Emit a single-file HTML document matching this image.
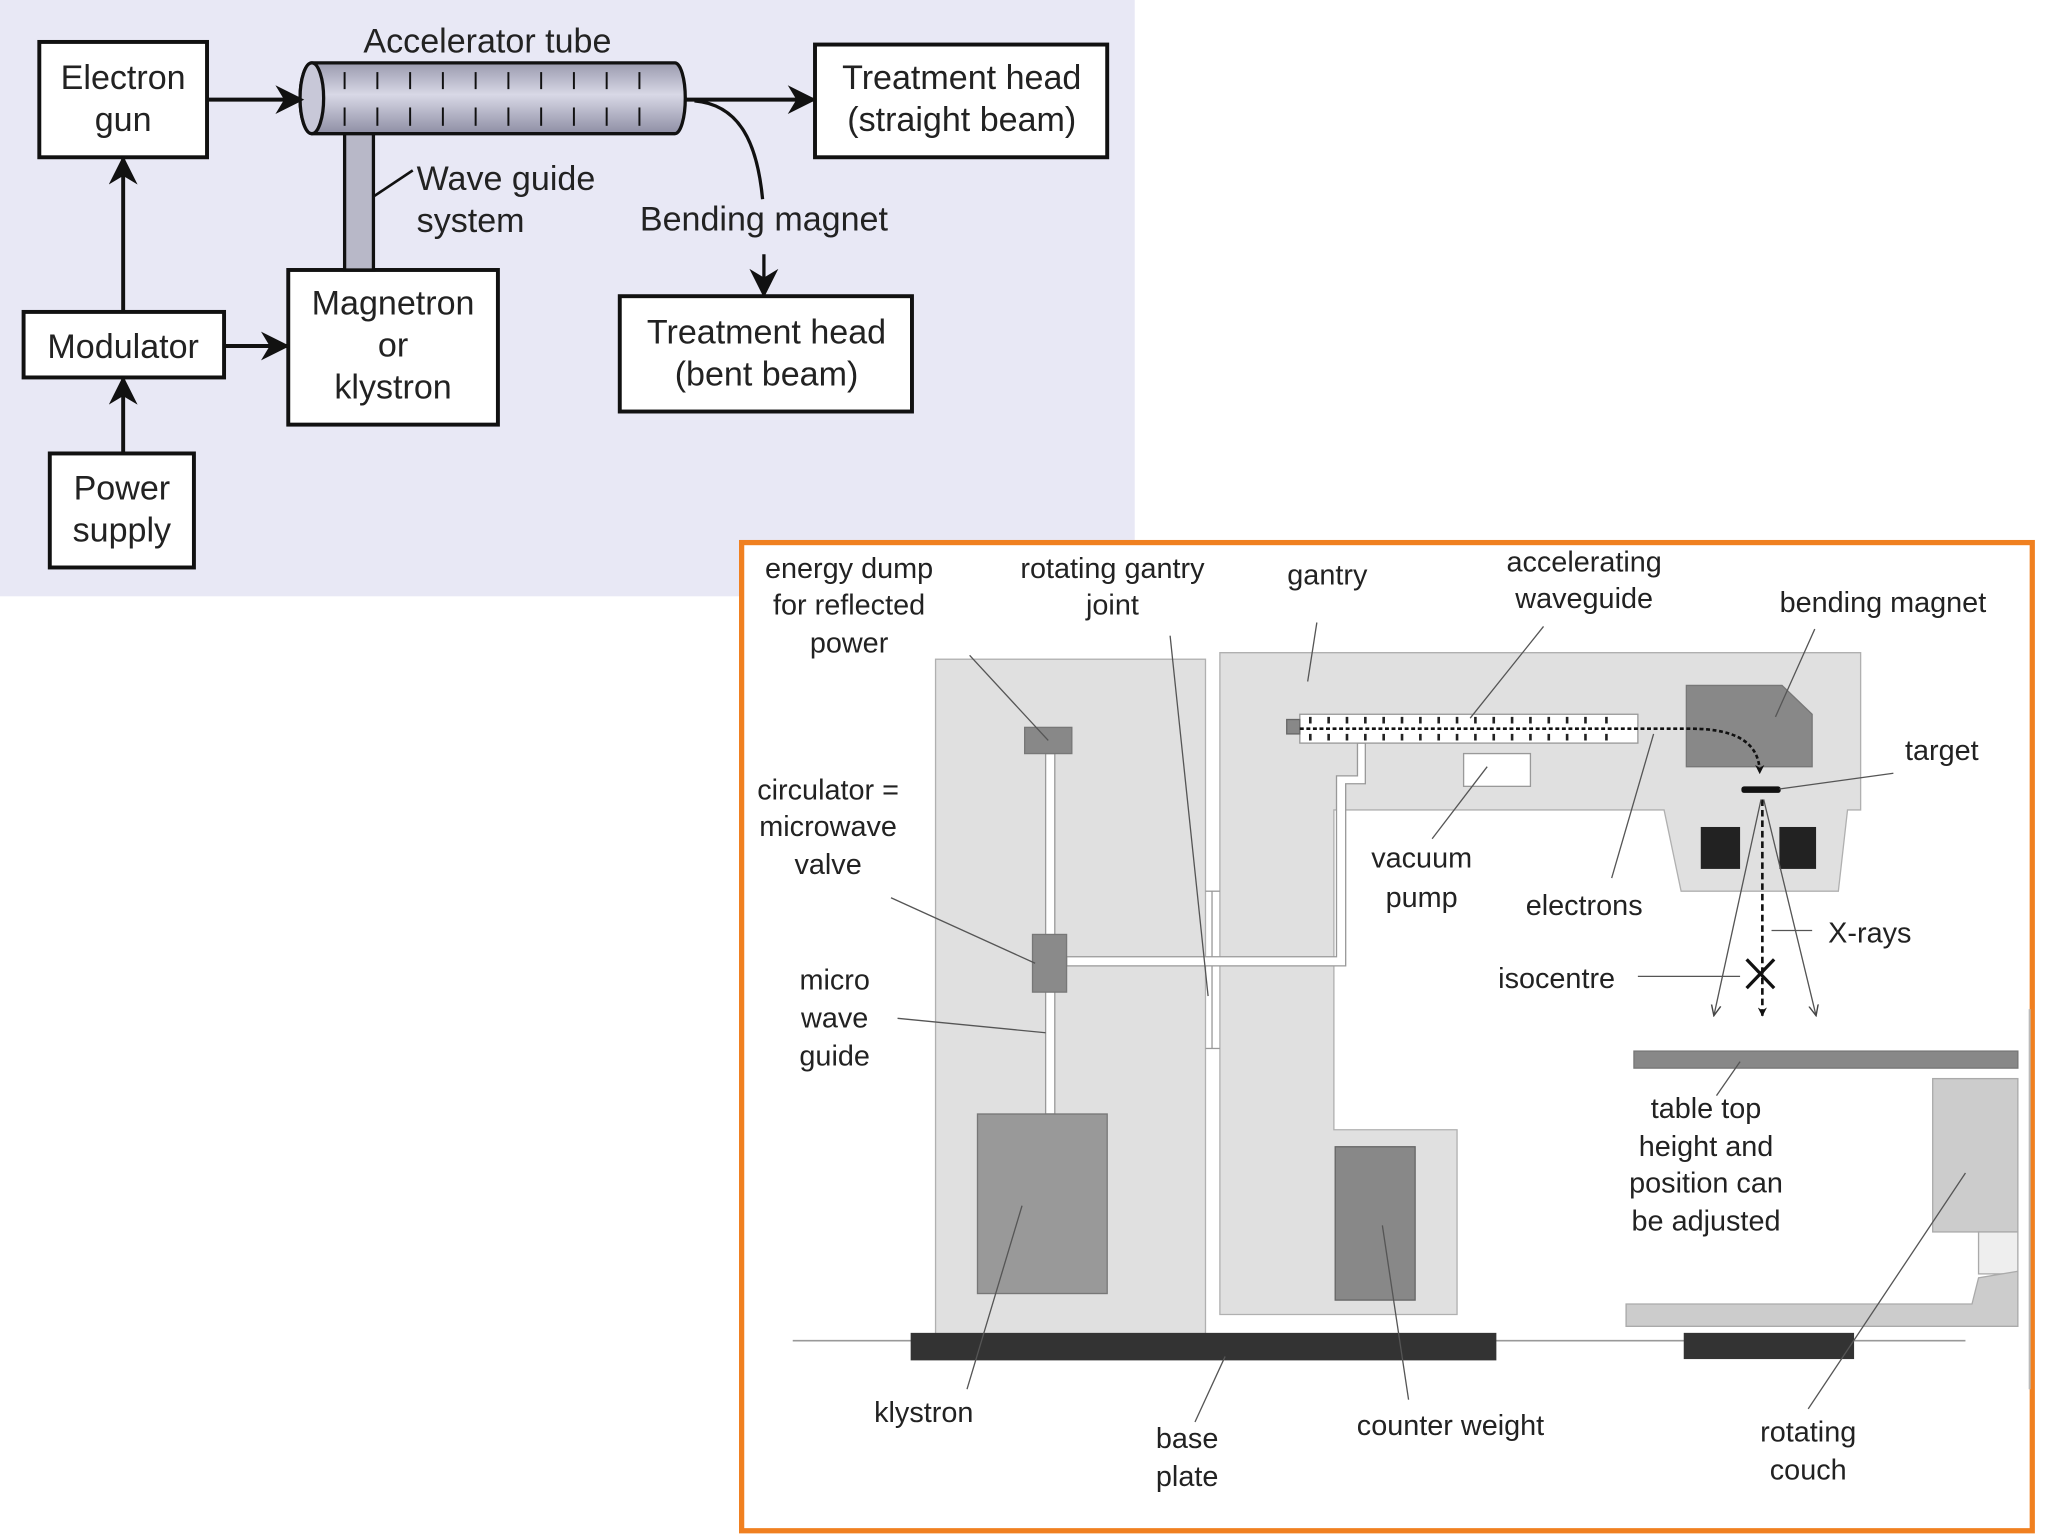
<!DOCTYPE html>
<html><head><meta charset="utf-8"><style>
html,body{margin:0;padding:0;background:#fff;width:2048px;height:1536px;overflow:hidden}
svg{display:block}
text{font-family:"Liberation Sans",Arial,sans-serif;fill:#222}
</style></head><body>
<svg width="2048" height="1536" viewBox="0 0 1563 1172" preserveAspectRatio="none" xmlns="http://www.w3.org/2000/svg">
<defs>
<linearGradient id="tg" x1="0" y1="0" x2="0" y2="1">
<stop offset="0" stop-color="#9a9aae"/><stop offset="0.45" stop-color="#d8d8e6"/><stop offset="1" stop-color="#8e8ea4"/>
</linearGradient>
<marker id="ah" viewBox="0 0 10 10" refX="9" refY="5" markerWidth="7" markerHeight="7" orient="auto" markerUnits="userSpaceOnUse"><path d="M0,0 L10,5 L0,10 L3,5 z" fill="#111"/></marker>
<marker id="big" viewBox="0 0 10 10" refX="9" refY="5" markerWidth="24" markerHeight="22" orient="auto" markerUnits="userSpaceOnUse"><path d="M0,0 L10,5 L0,10 L3,5 z" fill="#111"/></marker>
<marker id="thin" viewBox="0 0 10 10" refX="9" refY="5" markerWidth="9" markerHeight="9" orient="auto" markerUnits="userSpaceOnUse"><path d="M0,1 L9,5 L0,9" fill="none" stroke="#444" stroke-width="1.2"/></marker>
</defs>

<!-- top panel -->
<rect x="0" y="0" width="866" height="455" fill="#e8e8f5"/>
<g stroke="#111" stroke-width="3" fill="#fff">
<rect x="30" y="32" width="128" height="88"/>
<rect x="622" y="34" width="223" height="86"/>
<rect x="473" y="226" width="223" height="88"/>
<rect x="18" y="238" width="153" height="50"/>
<rect x="220" y="206" width="160" height="118"/>
<rect x="38" y="346" width="110" height="87"/>
</g>
<!-- waveguide vertical -->
<rect x="263" y="96" width="22" height="110" fill="#b8b8c8" stroke="#111" stroke-width="2.5"/>
<!-- tube -->
<path d="M238,48 L515,48 A8,27 0 0 1 515,102 L238,102 A9,27 0 0 1 238,48 z" fill="url(#tg)" stroke="#111" stroke-width="2.5"/>
<ellipse cx="238" cy="75" rx="9" ry="27" fill="#c8c8d8" stroke="#111" stroke-width="2.5"/>
<g stroke="#111" stroke-width="1.5">
<line x1="263" y1="55" x2="263" y2="68"/><line x1="263" y1="82" x2="263" y2="96"/>
<line x1="288" y1="55" x2="288" y2="68"/><line x1="288" y1="82" x2="288" y2="96"/>
<line x1="313" y1="55" x2="313" y2="68"/><line x1="313" y1="82" x2="313" y2="96"/>
<line x1="338" y1="55" x2="338" y2="68"/><line x1="338" y1="82" x2="338" y2="96"/>
<line x1="363" y1="55" x2="363" y2="68"/><line x1="363" y1="82" x2="363" y2="96"/>
<line x1="388" y1="55" x2="388" y2="68"/><line x1="388" y1="82" x2="388" y2="96"/>
<line x1="413" y1="55" x2="413" y2="68"/><line x1="413" y1="82" x2="413" y2="96"/>
<line x1="438" y1="55" x2="438" y2="68"/><line x1="438" y1="82" x2="438" y2="96"/>
<line x1="463" y1="55" x2="463" y2="68"/><line x1="463" y1="82" x2="463" y2="96"/>
<line x1="488" y1="55" x2="488" y2="68"/><line x1="488" y1="82" x2="488" y2="96"/>
</g>
<g stroke="#111" stroke-width="3" fill="none">
<line x1="158" y1="76" x2="230" y2="76" marker-end="url(#big)"/>
<line x1="522" y1="76" x2="621" y2="76" marker-end="url(#big)"/>
<path d="M530,77 C565,80 578,110 582,152" stroke-width="2.5"/>
<line x1="583" y1="194" x2="583" y2="225" marker-end="url(#big)" stroke-width="2.5"/>
<line x1="171" y1="264" x2="219" y2="264" marker-end="url(#big)"/>
<line x1="94" y1="238" x2="94" y2="121" marker-end="url(#big)"/>
<line x1="94" y1="346" x2="94" y2="289" marker-end="url(#big)"/>
<line x1="285" y1="150" x2="315" y2="130" stroke-width="2"/>
</g>
<g font-size="26" text-anchor="middle">
<text x="94" y="68">Electron</text><text x="94" y="100">gun</text>
<text x="372" y="40">Accelerator tube</text>
<text x="734" y="68">Treatment head</text><text x="734" y="100">(straight beam)</text>
<text x="583" y="176">Bending magnet</text>
<text x="585" y="262">Treatment head</text><text x="585" y="294">(bent beam)</text>
<text x="94" y="273">Modulator</text>
<text x="300" y="240">Magnetron</text><text x="300" y="272">or</text><text x="300" y="304">klystron</text>
<text x="93" y="381">Power</text><text x="93" y="413">supply</text>
</g>
<g font-size="26"><text x="318" y="145">Wave guide</text><text x="318" y="177">system</text></g>

<!-- bottom panel -->
<rect x="566" y="414" width="985" height="754" fill="#fff" stroke="#f08020" stroke-width="4"/>
<line x1="1549" y1="770" x2="1549" y2="1060" stroke="#bbb" stroke-width="1.5"/>
<!-- floor -->
<line x1="605" y1="1023" x2="1500" y2="1023" stroke="#999" stroke-width="1.2"/>
<!-- cabinet -->
<rect x="714" y="503" width="206" height="515" fill="#e0e0e0" stroke="#b0b0b0" stroke-width="1"/>
<!-- gantry -->
<path d="M931,498 L1420,498 L1420,618 L1410,618 L1403,680 L1283,680 L1270,618 L1018,618 L1018,862 L1112,862 L1112,1003 L931,1003 z" fill="#e0e0e0" stroke="#b0b0b0" stroke-width="1"/>
<!-- joint -->
<line x1="925" y1="680" x2="925" y2="800" stroke="#999" stroke-width="1"/>
<line x1="920" y1="680" x2="931" y2="680" stroke="#999" stroke-width="1"/>
<line x1="920" y1="800" x2="931" y2="800" stroke="#999" stroke-width="1"/>
<!-- waveguides -->
<rect x="798" y="575" width="7" height="275" fill="#fff" stroke="#999" stroke-width="1"/>
<path d="M814,730 L1020,730 L1020,592 L1036,592 L1036,567 L1042,567 L1042,598 L1027,598 L1027,737 L814,737 z" fill="#fff" stroke="#999" stroke-width="1"/>
<rect x="782" y="555" width="36" height="20" fill="#888" stroke="#777"/>
<rect x="788" y="713" width="26" height="44" fill="#8a8a8a" stroke="#777"/>
<rect x="746" y="850" width="99" height="137" fill="#999" stroke="#777"/>
<rect x="1019" y="875" width="61" height="117" fill="#888" stroke="#666"/>
<!-- accelerating waveguide -->
<rect x="992" y="545" width="258" height="22" fill="#fff" stroke="#999" stroke-width="1"/>
<rect x="982" y="549" width="10" height="11" fill="#888" stroke="#666"/>
<g stroke="#222" stroke-width="2">
<path d="M1000,547 V552 M1014,547 V552 M1028,547 V552 M1042,547 V552 M1056,547 V552 M1070,547 V552 M1084,547 V552 M1098,547 V552 M1112,547 V552 M1126,547 V552 M1140,547 V552 M1154,547 V552 M1168,547 V552 M1182,547 V552 M1196,547 V552 M1210,547 V552 M1226,547 V552"/>
<path d="M1000,560 V565 M1014,560 V565 M1028,560 V565 M1042,560 V565 M1056,560 V565 M1070,560 V565 M1084,560 V565 M1098,560 V565 M1112,560 V565 M1126,560 V565 M1140,560 V565 M1154,560 V565 M1168,560 V565 M1182,560 V565 M1196,560 V565 M1210,560 V565 M1226,560 V565"/>
</g>
<rect x="1117" y="575" width="51" height="25" fill="#fff" stroke="#999"/>
<path d="M1287,523 L1360,523 L1383,545 L1383,585 L1287,585 z" fill="#888" stroke="#777"/>
<path d="M992,556 L1290,556 C1330,556 1343,570 1343,590" fill="none" stroke="#111" stroke-width="2" stroke-dasharray="3,2" marker-end="url(#ah)"/>
<rect x="1329" y="600" width="30" height="5" rx="2" fill="#111"/>
<rect x="1298" y="631" width="30" height="32" fill="#222"/>
<rect x="1358" y="631" width="28" height="32" fill="#222"/>
<line x1="1345" y1="610" x2="1345" y2="775" stroke="#111" stroke-width="2" stroke-dasharray="5,3" marker-end="url(#ah)"/>
<line x1="1344" y1="610" x2="1308" y2="775" stroke="#555" stroke-width="1" marker-end="url(#thin)"/>
<line x1="1346" y1="610" x2="1386" y2="775" stroke="#555" stroke-width="1" marker-end="url(#thin)"/>
<path d="M1333,732 L1354,754 M1354,732 L1333,754" stroke="#111" stroke-width="2.5"/>
<!-- table & couch -->
<rect x="1247" y="802" width="293" height="13" fill="#888" stroke="#777"/>
<rect x="1475" y="823" width="65" height="117" fill="#ccc" stroke="#aaa"/>
<rect x="1510" y="940" width="30" height="32" fill="#eee" stroke="#aaa"/>
<path d="M1241,995 L1505,995 L1510,975 L1540,970 L1540,1012 L1241,1012 z" fill="#ccc" stroke="#aaa"/>
<rect x="695" y="1017" width="447" height="21" fill="#333"/>
<rect x="1285" y="1017" width="130" height="20" fill="#333"/>
<!-- leaders -->
<g stroke="#555" stroke-width="1" fill="none">
<line x1="740" y1="500" x2="800" y2="565"/>
<line x1="893" y1="485" x2="922" y2="760"/>
<line x1="1005" y1="475" x2="998" y2="520"/>
<line x1="1178" y1="478" x2="1122" y2="548"/>
<line x1="1385" y1="480" x2="1355" y2="547"/>
<line x1="1445" y1="590" x2="1358" y2="602"/>
<line x1="680" y1="685" x2="790" y2="735"/>
<line x1="685" y1="777" x2="798" y2="788"/>
<line x1="1093" y1="640" x2="1135" y2="585"/>
<line x1="1230" y1="670" x2="1262" y2="560"/>
<line x1="1352" y1="710" x2="1383" y2="710"/>
<line x1="1250" y1="745" x2="1328" y2="745"/>
<line x1="1310" y1="836" x2="1328" y2="810"/>
<line x1="738" y1="1060" x2="780" y2="920"/>
<line x1="912" y1="1085" x2="935" y2="1035"/>
<line x1="1075" y1="1068" x2="1055" y2="935"/>
<line x1="1380" y1="1075" x2="1500" y2="895"/>
</g>
<g font-size="22" text-anchor="middle">
<text x="648" y="441">energy dump</text><text x="648" y="469">for reflected</text><text x="648" y="498">power</text>
<text x="849" y="441">rotating gantry</text><text x="849" y="469">joint</text>
<text x="1013" y="446">gantry</text>
<text x="1209" y="436">accelerating</text><text x="1209" y="464">waveguide</text>
<text x="1437" y="467">bending magnet</text>
<text x="1482" y="580">target</text>
<text x="632" y="610">circulator =</text><text x="632" y="638">microwave</text><text x="632" y="667">valve</text>
<text x="637" y="755">micro</text><text x="637" y="784">wave</text><text x="637" y="813">guide</text>
<text x="1085" y="662">vacuum</text><text x="1085" y="692">pump</text>
<text x="1209" y="698">electrons</text>
<text x="1427" y="719">X-rays</text>
<text x="1188" y="754">isocentre</text>
<text x="1302" y="853">table top</text><text x="1302" y="882">height and</text><text x="1302" y="910">position can</text><text x="1302" y="939">be adjusted</text>
<text x="705" y="1085">klystron</text>
<text x="906" y="1105">base</text><text x="906" y="1134">plate</text>
<text x="1107" y="1095">counter weight</text>
<text x="1380" y="1100">rotating</text><text x="1380" y="1129">couch</text>
</g>
</svg>
</body></html>
